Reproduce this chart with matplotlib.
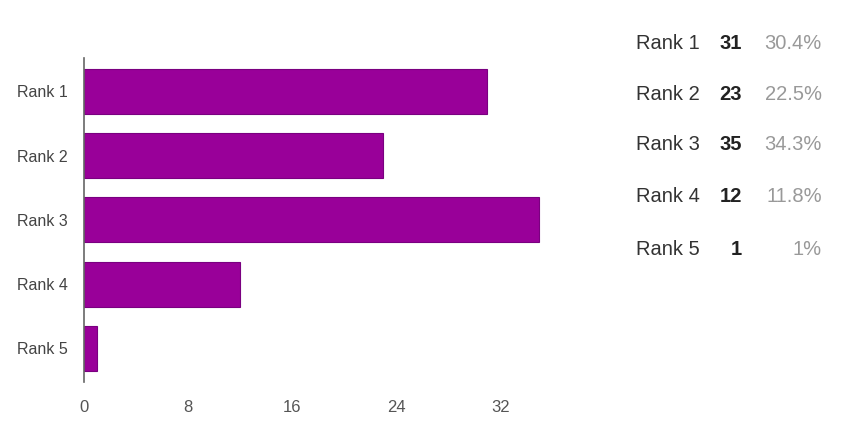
import matplotlib
matplotlib.use("Agg")
import matplotlib.pyplot as plt

# values
ranks = ["Rank 1", "Rank 2", "Rank 3", "Rank 4", "Rank 5"]
counts = [31, 23, 35, 12, 1]
percents = ["30.4%", "22.5%", "34.3%", "11.8%", "1%"]
x_ticks = [0, 8, 16, 24, 32]

BAR = "#990099"
plt.rcParams["font.family"] = ["Liberation Sans", "DejaVu Sans"]

fig = plt.figure(figsize=(8.67, 4.32), dpi=100)
ax = fig.add_axes([0.097, 0.116, 0.60, 0.75])

y = list(range(len(ranks)))
ax.barh(y, counts, height=0.7, color=BAR, edgecolor="#7a0080", linewidth=0.8)
ax.set_ylim(len(ranks) - 0.48, -0.52)
ax.set_xlim(0, 40)
ax.set_yticks(y, ranks)
ax.set_xticks(x_ticks)
ax.tick_params(length=0, labelsize=11.5, colors="#444444", pad=12)
ax.tick_params(axis="x", pad=13, colors="#555555", labelsize=12)
for side in ("top", "right", "bottom"):
    ax.spines[side].set_visible(False)
ax.spines["left"].set_color("#666666")
ax.spines["left"].set_linewidth(1.2)

# summary table on the right
row_y = [0.900, 0.782, 0.665, 0.545, 0.422]
for r, c, p, yy in zip(ranks, counts, percents, row_y):
    fig.text(0.733, yy, r, fontsize=14.5, color="#333333", va="center", ha="left")
    fig.text(0.856, yy, str(c), fontsize=14.5, color="#222222", fontweight="bold",
             va="center", ha="right")
    fig.text(0.948, yy, p, fontsize=14.5, color="#999999", va="center", ha="right")

fig.savefig("out.png", dpi=100)
